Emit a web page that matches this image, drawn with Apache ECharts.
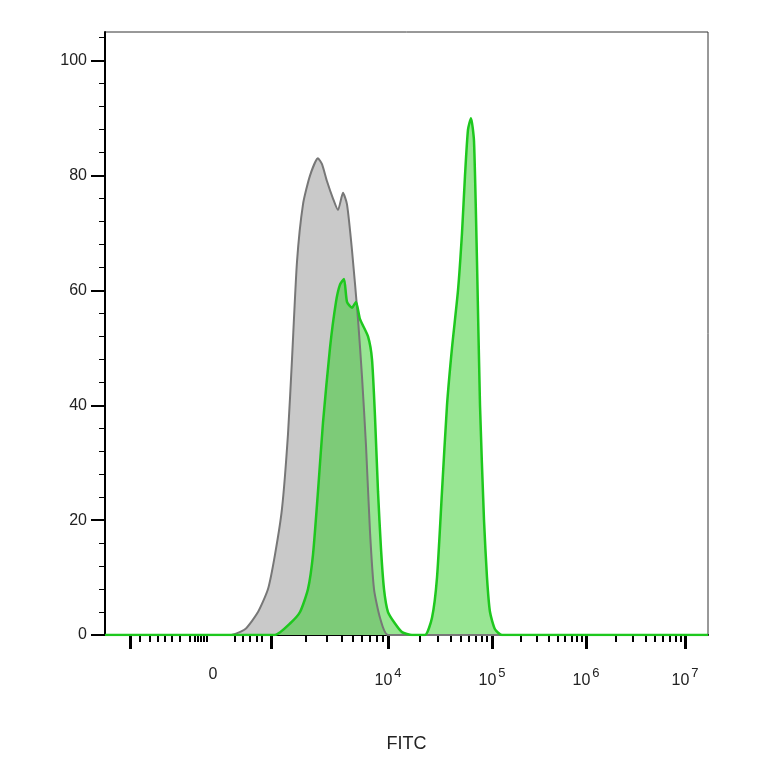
<!DOCTYPE html>
<html><head><meta charset="utf-8">
<script src="https://cdn.jsdelivr.net/npm/echarts@6/dist/echarts.min.js"></script>
<style>html,body{margin:0;background:#fff}#c{width:764px;height:764px}</style>
</head><body><div id="c"></div>
<script>
// x values are positions on the biexponential display scale (0..1 of axis, scaled 105..708)
var grayX = [105,230,245,258,268,275,282,288,292,297,303,310,318,322,327,333,338,343,347,352,358,362,366,370,374,380,388,708];
var grayY = [0,0,1,4,8,14,22,35,48,65,75,80,83,82,79,76,74,77,75,67,55,45,33,18,8,3,0,0];
var greenX = [105,275,290,300,308,313,318,323,330,336,340,344,347,352,356,360,368,372,375,378,381,384,388,395,402,412,425,432,437,442,447,452,458,462,465,468,471,474,477,480,484,487,490,495,502,708];
var greenY = [0,0,2,4,8,14,25,37,50,58,61,62,58,57,58,55,52,48,38,25,15,8,4,2,0.5,0,0,3,10,25,40,50,60,70,80,88,90,86,65,40,20,10,4,1,0,0];
var majorTicks = [130,271,388,492,586,685];
var labelPos = [213,388,492,586,685];
var labelTxt = ['0','10{s|4}','10{s|5}','10{s|6}','10{s|7}'];
var minorTicks = [140,150,158,165,172,180,190,195,198,201,204,207,235,243,250,257,262];
function decade(a, b) { for (var k = 2; k < 10; k++) minorTicks.push(a + (b - a) * Math.log10(k)); }
decade(271, 388); decade(388, 492); decade(492, 586); decade(586, 685);

function pairs(xs, ys) { return xs.map(function (x, i) { return [x, ys[i]]; }); }
var chart = echarts.init(document.getElementById('c'));
var axisFont = { color: '#222', fontFamily: 'Arial, Liberation Sans', fontSize: 16 };
chart.setOption({
  animation: false,
  grid: { left: 105, right: 56, top: 32, bottom: 129, show: true, borderColor: '#333', borderWidth: 1 },
  xAxis: [{
    type: 'value', min: 105, max: 708, name: 'FITC', nameLocation: 'middle', nameGap: 100,
    nameTextStyle: { color: '#222', fontSize: 18, fontFamily: 'Arial, Liberation Sans' },
    axisLine: { lineStyle: { color: '#000', width: 2 } },
    splitLine: { show: false },
    axisTick: { customValues: majorTicks, length: 14, lineStyle: { color: '#000', width: 3 } },
    axisLabel: Object.assign({
      customValues: labelPos, margin: 32,
      formatter: function (v) { return labelTxt[labelPos.indexOf(v)]; },
      rich: { s: { fontSize: 13, verticalAlign: 'top', padding: [0, 0, 14, 2] } }
    }, axisFont)
  }, {
    type: 'value', min: 105, max: 708, position: 'bottom',
    axisLine: { show: false }, splitLine: { show: false }, axisLabel: { show: false },
    axisTick: { customValues: minorTicks, length: 7, lineStyle: { color: '#000', width: 2 } }
  }],
  yAxis: {
    type: 'value', min: 0, max: 105,
    axisLine: { show: true, lineStyle: { color: '#000', width: 2 } },
    splitLine: { show: false },
    axisTick: { customValues: [0, 20, 40, 60, 80, 100], length: 14, lineStyle: { color: '#000', width: 2 } },
    minorTick: { show: true, splitNumber: 5, length: 6, lineStyle: { color: '#000' } },
    axisLabel: Object.assign({ customValues: [0, 20, 40, 60, 80, 100], margin: 18 }, axisFont)
  },
  series: [{
    type: 'line', data: pairs(grayX, grayY), symbol: 'none', smooth: 0.2,
    lineStyle: { color: '#777', width: 2 }, areaStyle: { color: '#c9c9c9', opacity: 1 }
  }, {
    type: 'line', data: pairs(greenX, greenY), symbol: 'none', smooth: 0.2,
    lineStyle: { color: '#1ec81e', width: 2.5 }, areaStyle: { color: 'rgba(50,205,40,0.5)', opacity: 1 }
  }]
});
</script></body></html>
